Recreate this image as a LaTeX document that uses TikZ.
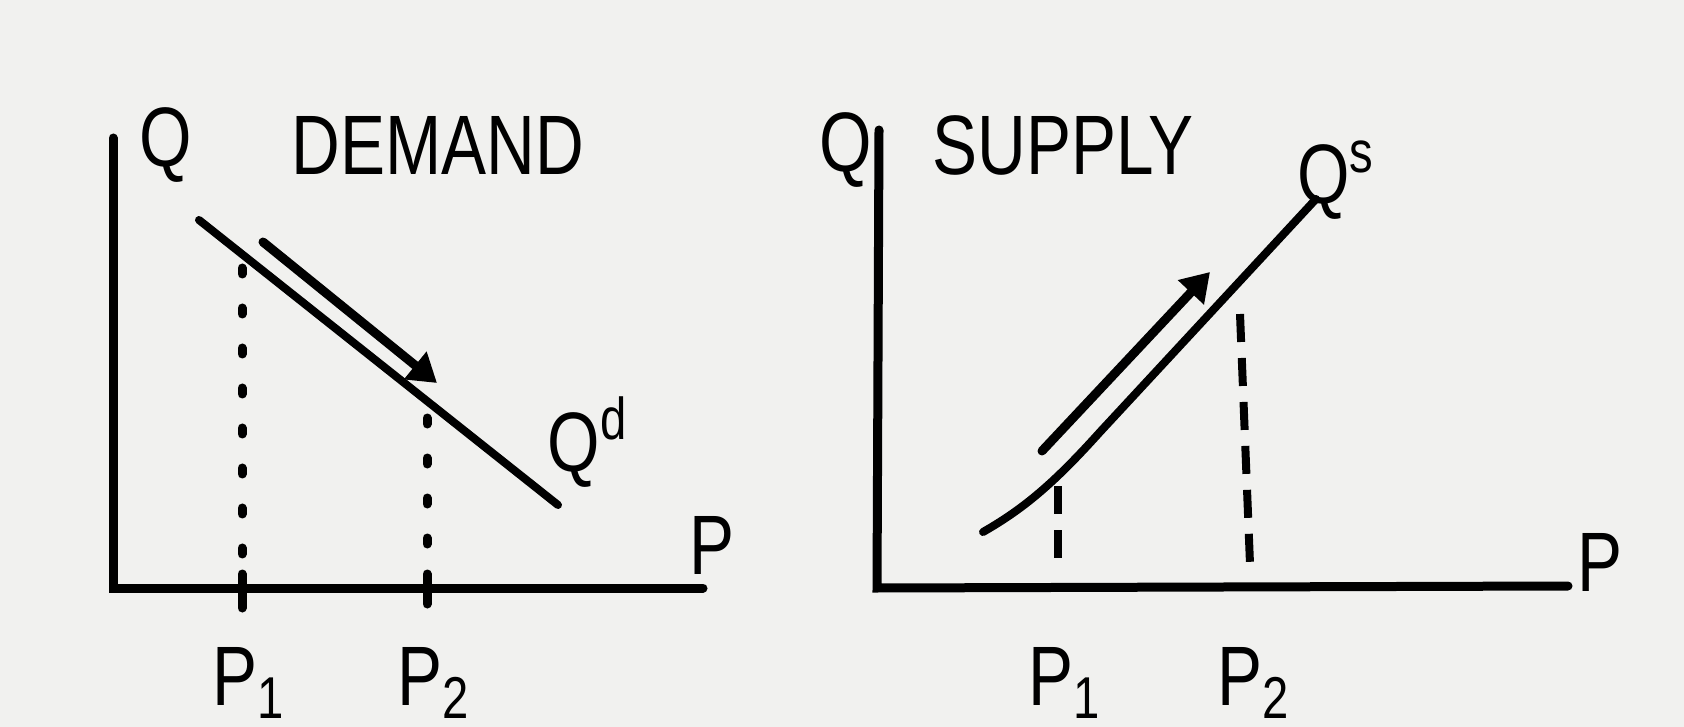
\documentclass[tikz,border=0pt]{standalone}
\usepackage{fontspec}
\setmainfont{Liberation Sans}
\newfontfamily\handfont[FakeStretch=0.8]{Liberation Sans}
\usepackage{tikz}
\usetikzlibrary{arrows.meta,calc}
\definecolor{paper}{RGB}{241,241,239}

\begin{document}
\begin{tikzpicture}[x=0.1mm, y=-0.1mm, >={Triangle[length=2.8mm, width=3.4mm]},
		axis/.style={line width=0.9mm, line cap=round},
		curve/.style={line width=0.8mm, line cap=round},
		shift arrow/.style={->, line width=0.9mm, line cap=round},
		dotline/.style={line width=0.9mm, line cap=round, dash pattern=on 0.6mm off 3.4mm},
		dashline/.style={line width=0.8mm, dash pattern=on 2.8mm off 1.6mm},
		lbl/.style={font=\handfont\fontsize{24}{26}\selectfont},
		title/.style={font=\handfont\fontsize{24}{26}\selectfont}]
		\fill[paper] (0,0) rectangle (1684,727);
		\useasboundingbox (0,0) rectangle (1684,727);
		% demand panel
		\coordinate (O1) at (113,588);
		\coordinate (Y1) at (113,138);
		\coordinate (X1) at (703,588);
		\draw[axis] (Y1) -- (O1) -- (X1);
		\node[lbl] (Q1) at (166,145) {Q};
		\node[lbl] (Pax1) at (712,545) {P};
		\node[title] (demand) at (438,145) {DEMAND};
		\coordinate (Da) at (199,220);
		\coordinate (Db) at (558,505);
		\draw[curve] (Da) -- (Db);
		\node[lbl] (Qd) at (588,442) {Q\textsuperscript{d}};
		\coordinate (Aa) at (263,242);
		\coordinate (Ab) at (437,383);
		\draw[shift arrow] (Aa) -- (Ab);
		% prices on the demand curve
		\coordinate (d1) at (242,268);
		\coordinate (d2) at (427,418);
		\draw[dotline] (d1) -- (d1 |- O1);
		\draw[dotline] (d2) -- (d2 |- O1);
		\draw[axis] ($(d1 |- O1)+(0,-14)$) -- ($(d1 |- O1)+(0,20)$);
		\draw[axis] ($(d2 |- O1)+(0,-14)$) -- ($(d2 |- O1)+(0,16)$);
		\node[lbl] (Pd1) at (249,683) {P\textsubscript{1}};
		\node[lbl] (Pd2) at (434,683) {P\textsubscript{2}};
		% supply panel
		\coordinate (O2) at (877,588);
		\coordinate (Y2) at (879,130);
		\coordinate (X2) at (1568,586);
		\draw[axis] (Y2) -- (O2) -- (X2);
		\node[lbl] (Q2) at (846,150) {Q};
		\node[lbl] (Pax2) at (1600,562) {P};
		\node[title] (supply) at (1063,145) {SUPPLY};
		\coordinate (Sa) at (983,532);
		\coordinate (Sb) at (1316,199);
		\draw[curve] (Sa) .. controls (1025,508) and (1055,482) .. (1100,432) -- (Sb);
		\node[lbl] (Qs) at (1336,180) {Q\textsuperscript{s}};
		\coordinate (Ba) at (1042,451);
		\coordinate (Bb) at (1210,272);
		\draw[shift arrow] (Ba) -- (Bb);
		% prices on the supply curve
		\coordinate (s1) at (1058,486);
		\coordinate (s2) at (1240,314);
		\draw[dashline] (s1) -- (1058,558);
		\draw[dashline] (s2) -- (1250,564);
		\node[lbl] (Ps1) at (1065,683) {P\textsubscript{1}};
		\node[lbl] (Ps2) at (1254,683) {P\textsubscript{2}};
	\end{tikzpicture}
\end{document}
